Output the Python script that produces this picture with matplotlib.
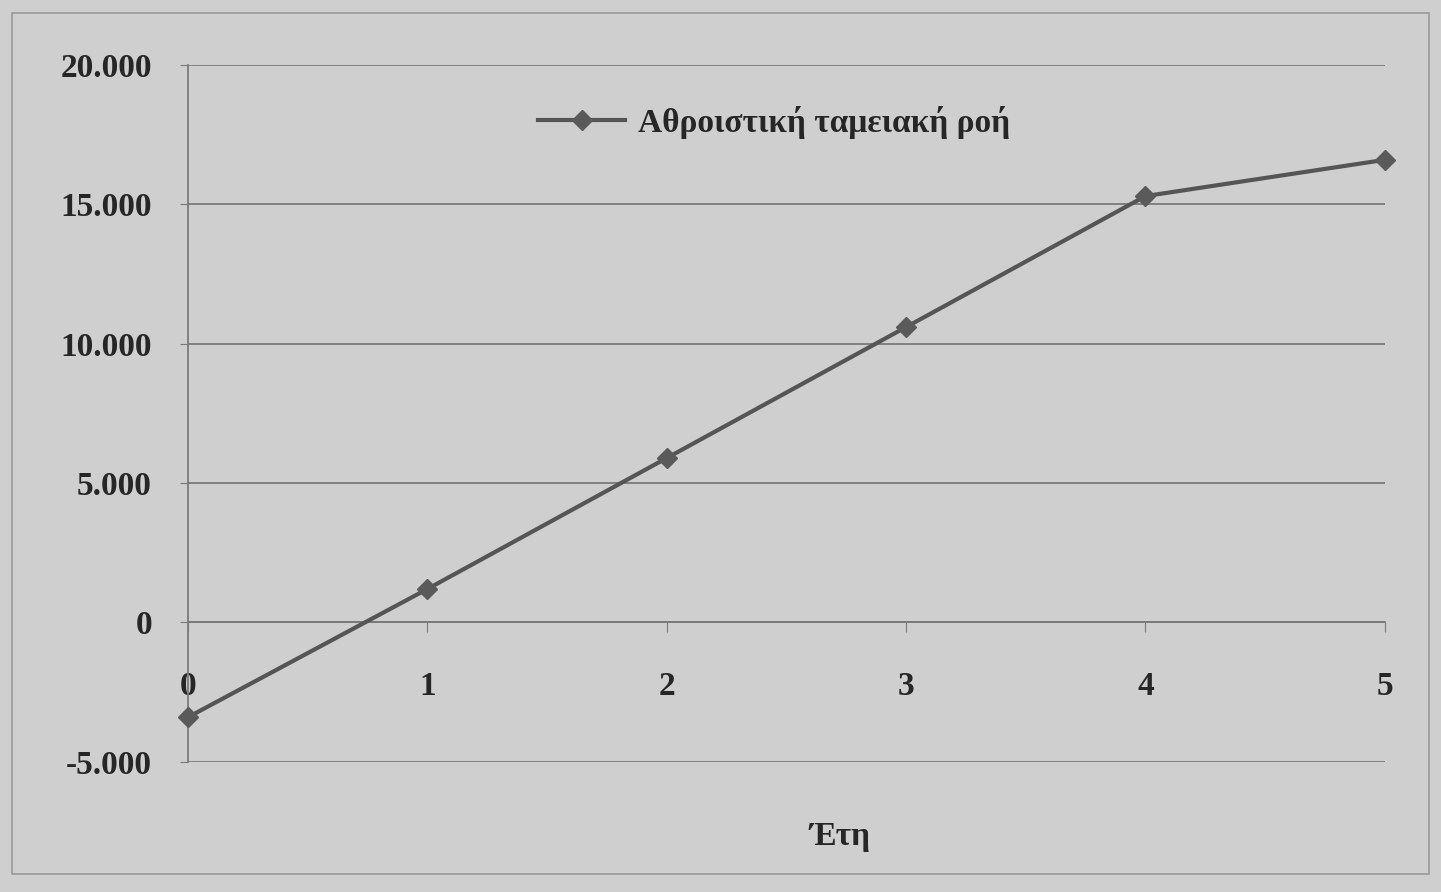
import matplotlib.pyplot as plt
from matplotlib.ticker import FuncFormatter

# Αθροιστική ταμειακή ροή ανά έτος
years = [0, 1, 2, 3, 4, 5]
cash_flow = [-3400, 1200, 5900, 10600, 15300, 16600]
y_ticks = [-5000, 0, 5000, 10000, 15000, 20000]

plt.rcParams['font.family'] = ['Liberation Serif', 'DejaVu Serif']
plt.rcParams['font.weight'] = 'bold'

bg = '#cfcfcf'
txt = '#262626'
fig = plt.figure(figsize=(14.41, 8.92), dpi=100, facecolor=bg)
ax = fig.add_axes([0.1305, 0.146, 0.8305, 0.781])
ax.set_facecolor(bg)

ax.plot(years, cash_flow, color='#555555', lw=3, marker='D', markersize=10.5,
        markerfacecolor='#5a5a5a', markeredgecolor='#5a5a5a',
        label='Αθροιστική ταμειακή ροή', clip_on=False, zorder=3)

ax.set_xlim(0, 5)
ax.set_ylim(-5000, 20000)
ax.set_yticks(y_ticks)
ax.yaxis.set_major_formatter(FuncFormatter(lambda v, p: f"{v:,.0f}".replace(',', '.')))
ax.set_xticks(years)
ax.grid(axis='y', color='#7a7a7a', lw=1.3)
ax.set_axisbelow(True)

for s in ['top', 'right']:
    ax.spines[s].set_visible(False)
ax.spines['bottom'].set_position(('data', 0))
ax.spines['bottom'].set_color('#7a7a7a')
ax.spines['left'].set_color('#7a7a7a')
ax.spines['bottom'].set_linewidth(1.3)
ax.spines['left'].set_linewidth(1.3)

ax.tick_params(axis='y', labelsize=24, colors='#7a7a7a', labelcolor=txt, length=6, pad=20)
ax.tick_params(axis='x', labelsize=24, colors='#7a7a7a', labelcolor=txt, length=7, pad=28)

ax.set_xlabel('Έτη', fontsize=24, fontweight='bold', color=txt)
ax.xaxis.set_label_coords(0.545, -0.085)

ax.legend(loc='center', bbox_to_anchor=(0.49, 0.918), frameon=False,
          fontsize=24, labelcolor=txt, handlelength=2.6, handletextpad=0.4)

fig.patches.append(plt.Rectangle((0.008, 0.02), 0.984, 0.965, transform=fig.transFigure,
                                 fill=False, edgecolor='#9a9a9a', lw=1.2))

fig.savefig('out.png', dpi=100, facecolor=bg)
